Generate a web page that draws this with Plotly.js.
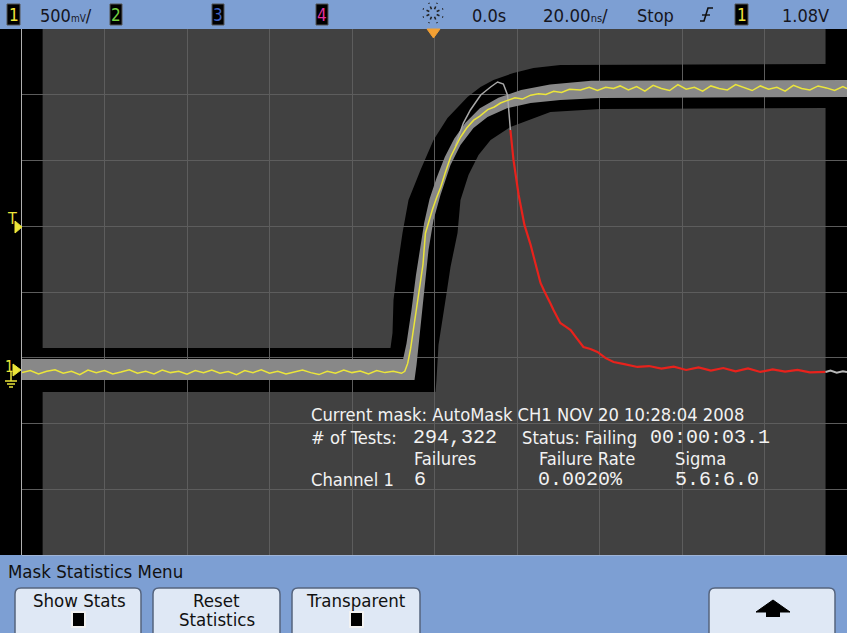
<!DOCTYPE html>
<html><head><meta charset="utf-8">
<script src="https://cdn.plot.ly/plotly-3.0.1.min.js"></script>
<style>html,body{margin:0;padding:0;background:#000;}#c{width:847px;height:633px;}</style>
</head><body><div id="c"></div>
<script>
// ---- data (time in ns, voltage in V) ----
const xRange = [-100, 100];
const yRange = [-1.407, 2.593];

// yellow channel-1 waveform: baseline, rising edge, high level
const baseT = [-100,-98,-96,-94,-92,-90,-88,-86,-84,-82,
  -80,-78,-76,-74,-72,-70,-68,-66,-64,-62,
  -60,-58,-56,-54,-52,-50,-48,-46,-44,-42,
  -40,-38,-36,-34,-32,-30,-28,-26,-24,-22,
  -20,-18,-16,-14,-12,-10,-8];
const baseV = [-0.02,-0.005,-0.03,-0.01,0.002,-0.025,-0.01,-0.035,0.0,-0.02,
  -0.005,-0.03,-0.015,0.002,-0.025,-0.01,-0.03,0.0,-0.02,-0.01,
  -0.032,-0.005,-0.02,0.0,-0.025,-0.012,-0.035,-0.005,-0.02,0.002,
  -0.025,-0.01,-0.03,-0.015,0.0,-0.02,-0.035,-0.01,-0.025,0.0,
  -0.02,-0.008,-0.03,-0.005,-0.02,-0.01,-0.025];
const riseT = [-7.2,-6.5,-5.8,-5.0,-4.2,-3.4,-2.8,-2.2,-1.4,-0.5,
  0.5,1.5,2.6,3.9,5.0,6.3,7.8,9.5,11.0,12.9,
  14.5,16.0,17.7,19.5,21.3,23.3,25.2,27.0,28.9,30.8,
  32.7,35.4,37.5,39.5,41.5,43.4];
const riseV = [-0.01,0.05,0.16,0.33,0.5,0.68,0.8,1.04,1.13,1.22,
  1.31,1.39,1.5,1.62,1.69,1.77,1.84,1.9,1.93,1.98,
  2.0,2.03,2.05,2.07,2.06,2.09,2.1,2.095,2.12,2.11,
  2.135,2.13,2.15,2.125,2.15,2.14];
const highT = [45,47,49,51,53,55,57,59,61,63,
  65,67,69,71,73,75,77,79,81,83,
  85,87,89,91,93,95,97,99,100];
const highV = [2.16,2.13,2.155,2.12,2.165,2.14,2.125,2.17,2.135,2.15,
  2.12,2.16,2.14,2.13,2.17,2.145,2.125,2.16,2.135,2.15,
  2.12,2.165,2.14,2.13,2.16,2.145,2.125,2.155,2.14];

// persistence envelope (upper edge left->right, lower edge right->left)
const envUpT = [-100,-7.6,-6.8,-5.6,-4.5,-3.2,-2.5,-1.2,0.5,2.5,4.8,7.5,11.0,15.5,21.0,28.0,38.0,100];
const envUpV = [0.084,0.084,0.20,0.45,0.72,0.98,1.12,1.30,1.46,1.62,1.76,1.88,1.99,2.07,2.13,2.17,2.2,2.205];
const envLoT = [100,40.2,30.5,23.3,17.7,12.85,9.45,6.3,3.88,1.45,-0.24,-1.45,-2.42,-3.4,-4.36,-4.85,-100];
const envLoV = [2.076,2.068,2.053,2.03,1.992,1.924,1.84,1.711,1.559,1.331,1.141,0.913,0.608,0.304,0.038,-0.076,-0.076];

// failing acquisition: gray overshoot then red part outside the mask
const glitchT = [5.0,7.0,8.7,11.2,13.6,15.3,16.7,17.7,18.4];
const glitchV = [1.70,1.878,1.977,2.091,2.152,2.19,2.175,2.091,1.825];
const redT = [18.4,19.15,20.4,21.8,23.3,24.5,25.7,26.6,27.4,28.2,
  28.85,29.7,30.5,31.8,33.0,34.5,36.1,37.8,39.5,41.5,
  43.4,46,49.2,52,55,58,61,64,67,70,
  73,76,79,82,85,88,91,94.8];
const redV = [1.825,1.597,1.331,1.103,0.951,0.80,0.662,0.60,0.555,0.50,
  0.456,0.40,0.357,0.33,0.304,0.24,0.175,0.16,0.137,0.09,
  0.061,0.045,0.023,0.03,0.01,0.025,0.0,0.02,-0.005,0.015,
  -0.01,0.012,-0.015,0.005,-0.012,0.0,-0.018,-0.015];
const tailT = [94.8,96,97.5,99,100];
const tailV = [-0.015,-0.005,-0.02,-0.01,-0.015];

// automask violation regions
const maskTopT = [-95,-95,-10.67,-10.18,-9.94,-8.97,-7.76,-6.30,-3.39,-0.24,3.15,8.0,11.15,14.3,19.15,24.0,30.5,94.8,94.8];
const maskTopV = [2.7,0.167,0.167,0.281,0.532,0.783,1.042,1.293,1.521,1.749,1.916,2.076,2.152,2.205,2.259,2.297,2.319,2.327,2.7];
const maskBotT = [-95,-95,0.24,0.48,0.97,1.45,2.67,3.88,5.58,6.3,8.24,10.67,13.6,18.4,28.1,40.2,94.8,94.8];
const maskBotV = [-1.5,-0.167,-0.167,-0.076,0.19,0.281,0.532,0.783,1.042,1.293,1.483,1.635,1.749,1.848,1.962,1.985,1.992,-1.5];

// text
const topLabels = {scale:'500', scaleUnit:'mV', pos:'0.0s', tbase:'20.00', tUnit:'ns', mode:'Stop', trig:'1.08V'};
const statLines = {
  mask:'Current mask: AutoMask CH1 NOV 20 10:28:04 2008',
  testsLbl:'# of Tests:', tests:'294,322', status:'Status: Failing', time:'00:00:03.1',
  hFail:'Failures', hRate:'Failure Rate', hSigma:'Sigma',
  chan:'Channel 1', fails:'6', rate:'0.0020%', sigma:'5.6:6.0'
};
const menuTitle = 'Mask Statistics Menu';
const buttons = ['Show Stats', 'Reset', 'Statistics', 'Transparent'];

// ---- build ----
const FN = '"Liberation Sans Narrow", "Arial Narrow", "DejaVu Sans Condensed", sans-serif';
const FM = '"Liberation Mono", "DejaVu Sans Mono", monospace';
const X = px => (px - 22) / 825;
const Y = py => (555 - py) / 526;

const maskFill = 'rgba(94,94,94,0.69)';
const traces = [
  {x: maskTopT, y: maskTopV, mode:'lines', fill:'toself', fillcolor:maskFill, line:{width:0}, hoverinfo:'skip'},
  {x: maskBotT, y: maskBotV, mode:'lines', fill:'toself', fillcolor:maskFill, line:{width:0}, hoverinfo:'skip'},
  {x: envUpT.concat(envLoT), y: envUpV.concat(envLoV), mode:'lines', fill:'toself', fillcolor:'#888888', line:{width:0}, hoverinfo:'skip'},
  {x: glitchT, y: glitchV, mode:'lines', line:{color:'#a8a8a8', width:1.5}},
  {x: baseT.concat(riseT, highT), y: baseV.concat(riseV, highV), mode:'lines', line:{color:'#ece63a', width:1.5}},
  {x: redT, y: redV, mode:'lines', line:{color:'#e8221c', width:2.2}},
  {x: tailT, y: tailV, mode:'lines', line:{color:'#b8b8b8', width:2}}
];

const shapes = [];
function rect(x0,y0,x1,y1,fill,lc,lw){ shapes.push({type:'rect', xref:'paper', yref:'paper', x0:X(x0), x1:X(x1), y0:Y(y0), y1:Y(y1), fillcolor:fill, line:{color:lc||fill, width:lw===undefined?0:lw}, layer:'above'}); }
function path(pts, fill, lc, lw, close){ let d = pts.map((p,i)=>(i?'L':'M')+X(p[0])+','+Y(p[1])).join(' ') + (close?' Z':''); shapes.push({type:'path', xref:'paper', yref:'paper', path:d, fillcolor:fill||'rgba(0,0,0,0)', line:{color:lc||'rgba(0,0,0,0)', width:lw||0}, layer:'above'}); }
function rr(x0,y0,x1,y1,r,fill,lc){ const d = `M${X(x0+r)},${Y(y0)} L${X(x1-r)},${Y(y0)} Q${X(x1)},${Y(y0)} ${X(x1)},${Y(y0+r)} L${X(x1)},${Y(y1)} L${X(x0)},${Y(y1)} L${X(x0)},${Y(y0+r)} Q${X(x0)},${Y(y0)} ${X(x0+r)},${Y(y0)} Z`; shapes.push({type:'path', xref:'paper', yref:'paper', path:d, fillcolor:fill, line:{color:lc, width:1.5}, layer:'above'}); }

// top status bar
rect(-5,-5,852,29,'#7d9fd3');
rect(7,4,20,25,'#000','#555',1);
rect(110,4,122,25,'#000','#555',1);
rect(212,4,224,25,'#000','#555',1);
rect(316,4,328,25,'#000','#555',1);
rect(735,4,748,25,'#000','#555',1);
// trigger sunburst icon
for (let k=0;k<8;k++){ const a=k*Math.PI/4+Math.PI/8; shapes.push({type:'line', xref:'paper', yref:'paper', x0:X(433+4*Math.cos(a)), y0:Y(13+4*Math.sin(a)), x1:X(433+11*Math.cos(a)), y1:Y(13+11*Math.sin(a)), line:{color:'#222', width:1.6, dash:'dot'}, layer:'above'}); }
// rising edge symbol
path([[700,21],[704,21],[708,8],[713,8]], null, '#111', 1.6);
path([[702,15],[710,15]], null, '#111', 1.4);
// trigger position marker
path([[427,29],[440,29],[433.5,38]], '#f3a033', '#f3a033', 1, true);
// left markers
path([[15,221],[22,227],[15,233]], '#ece63a', '#ece63a', 1, true);
path([[13,364],[21,370],[13,376]], '#ece63a', '#ece63a', 1, true);
path([[11,372],[11,381]], null, '#ece63a', 1.5);
path([[5,381],[17,381]], null, '#ece63a', 1.5);
path([[7,384],[15,384]], null, '#ece63a', 1.5);
path([[9,387],[13,387]], null, '#ece63a', 1.5);
// bottom menu
rect(-5,555,852,640,'#7d9fd3');
path([[22,555.5],[847,555.5]], null, '#9fb4d6', 1);
rr(15,588,141,640,6,'#dfe8f5','#55647e');
rr(153,588,280,640,6,'#dfe8f5','#55647e');
rr(292,588,420,640,6,'#dfe8f5','#55647e');
rr(709,588,835,640,6,'#dfe8f5','#55647e');
rect(72,612,85,627,'#000','#f2f2f2',2);
rect(350,612,363,627,'#000','#f2f2f2',2);
path([[756,612],[773,600],[790,612]], '#000', '#000', 1, true);
rect(766,611,780,617,'#000');

const ann = [];
function t(s, px, py, size, color, fam, anchor){ ann.push({text:s, x:X(px), y:Y(py), xref:'paper', yref:'paper', xanchor:anchor||'left', yanchor:'middle', showarrow:false, font:{family:fam||FN, size:size, color:color}}); }
const dk = '#16161e';
t('1', 13.5, 15, 17, '#f0e63c', FN, 'center');
t('2', 116, 15, 17, '#74d040', FN, 'center');
t('3', 218, 15, 17, '#3f62c4', FN, 'center');
t('4', 322, 15, 17, '#e2309c', FN, 'center');
t('1', 741.5, 15, 17, '#f0e63c', FN, 'center');
t(topLabels.scale + '<span style="font-size:10px">' + topLabels.scaleUnit + '</span>/', 38, 15, 18, dk);
t(topLabels.pos, 470, 15, 18, dk);
t(topLabels.tbase + '<span style="font-size:11px">' + topLabels.tUnit + '</span>/', 541, 15, 18.5, dk);
t(topLabels.mode, 635, 15, 18, dk);
t(topLabels.trig, 780, 15, 18, dk);
t('T', 12, 218, 16, '#ece63a', FN, 'center');
t('1', 9, 367, 15, '#ece63a', FN, 'center');

const wh = '#f2f2f2';
const sz = 18.2;
t(statLines.mask, 309, 415, sz, wh);
t(statLines.testsLbl, 309, 437, sz, wh);
t(statLines.tests, 411, 437, 20, wh, FM);
t(statLines.status, 520, 437, sz, wh);
t(statLines.time, 648, 437, 20, wh, FM);
t(statLines.hFail, 412, 458, sz, wh);
t(statLines.hRate, 537, 458, sz, wh);
t(statLines.hSigma, 673, 458, sz, wh);
t(statLines.chan, 309, 479, sz, wh);
t(statLines.fails, 412, 479, 20, wh, FM);
t(statLines.rate, 536, 479, 20, wh, FM);
t(statLines.sigma, 673, 479, 20, wh, FM);

t(menuTitle, 6, 571, 18.5, '#111');
t(buttons[0], 79, 600, 18.5, '#111', FN, 'center');
t(buttons[1], 216.5, 600, 18.5, '#111', FN, 'center');
t(buttons[2], 216.5, 619, 18.5, '#111', FN, 'center');
t(buttons[3], 356, 600, 18.5, '#111', FN, 'center');

const layout = {
  width:847, height:633,
  margin:{l:22, r:0, t:29, b:78, pad:0},
  paper_bgcolor:'#000', plot_bgcolor:'#000',
  showlegend:false,
  xaxis:{range:xRange, tick0:-100, dtick:20, showgrid:true, gridcolor:'#5c5c5c', gridwidth:1, zeroline:false, showticklabels:false, ticks:'', showline:false, fixedrange:true},
  yaxis:{range:yRange, tick0:yRange[0], dtick:0.5, showgrid:true, gridcolor:'#5c5c5c', gridwidth:1, zeroline:false, showticklabels:false, ticks:'', showline:true, linecolor:'#b0b0b0', linewidth:1, fixedrange:true},
  shapes:shapes, annotations:ann
};
Plotly.newPlot('c', traces, layout, {staticPlot:true, displayModeBar:false});
</script></body></html>
